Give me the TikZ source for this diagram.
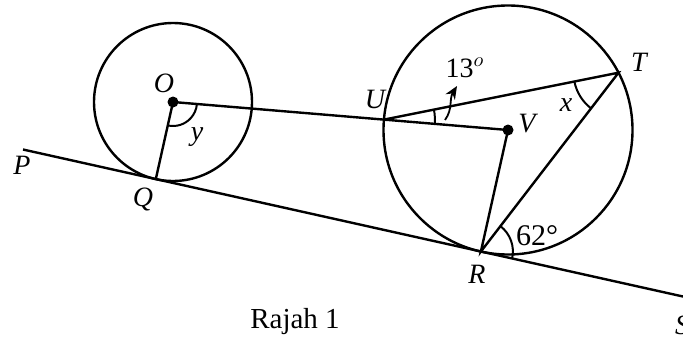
\documentclass[tikz,border=0pt]{standalone}
\usepackage{fontspec}
\setmainfont{Liberation Serif}
\usetikzlibrary{arrows.meta}
\begin{document}
\begin{tikzpicture}[x=0.5pt,y=0.5pt,
  geo/.style={line width=1.2pt},
  thin arc/.style={line width=1pt},
  lbl/.style={font=\fontsize{14}{16}\selectfont\itshape, inner sep=0pt},
  num/.style={font=\fontsize{14}{16}\selectfont, inner sep=0pt},
  captext/.style={font=\fontsize{14.5}{16}\selectfont, inner sep=0pt},
  dot/.style={circle, fill=black, inner sep=0pt, minimum size=5.5pt}]
\useasboundingbox (0,0) rectangle (683,-338);
% points
\coordinate (Pe) at (23,-149.5);
\coordinate (Se) at (700,-300.3);
\node[dot] (O) at (173,-102) {};
\node[dot] (V) at (508,-130) {};
\coordinate (Q) at (155.8,-179.1);
\coordinate (R) at (480.9,-251.5);
\coordinate (T) at (618.5,-72.7);
\coordinate (U) at (383.9,-119.6);
% circles
\draw[geo] (O.center) circle[radius=79];
\draw[geo] (V.center) circle[radius=124.5];
% lines
\draw[geo] (Pe) -- (Se);
\draw[geo] (O.center) -- (U) -- (V.center);
\draw[geo] (O.center) -- (Q);
\draw[geo] (U) -- (T) -- (R) -- (V.center);
% angle arcs
\draw[thin arc] ([shift={(-102.6:24)}]O.center) arc[start angle=-102.6,end angle=-4.78,radius=24];
\draw[thin arc] ([shift={(-4.79:51)}]U) arc[start angle=-4.79,end angle=11.3,radius=51];
\draw[thin arc] ([shift={(191.3:45)}]T) arc[start angle=191.3,end angle=232.4,radius=45];
\draw[thin arc] ([shift={(-12.56:32)}]R) arc[start angle=-12.56,end angle=52.4,radius=32];
% arrow
\draw[line width=0.9pt,-{Stealth[length=6.5pt,width=5.5pt]}] (445,-120) .. controls (453,-109) and (449,-99) .. (457,-86);
% labels
\node[lbl] (lO) at (164,-83) {O};
\node[lbl] (lP) at (22,-165) {P};
\node[lbl] (lQ) at (143,-199) {Q};
\node[lbl] (lU) at (375,-99) {U};
\node[lbl] (lV) at (527,-124) {V};
\node[lbl] (lT) at (639,-62) {T};
\node[lbl] (lR) at (477,-274) {R};
\node[lbl] (lS) at (682,-325) {S};
\node[lbl] (lx) at (566,-105) {x};
\node[lbl] (ly) at (197,-137) {y};
\node[num] (l13) at (465,-68) {13\textit{$^o$}};
\node[num, font=\fontsize{15}{17}\selectfont] (l62) at (537,-236) {62°};
\node[captext] (caption) at (295,-322) {Rajah 1};
\end{tikzpicture}
\end{document}
